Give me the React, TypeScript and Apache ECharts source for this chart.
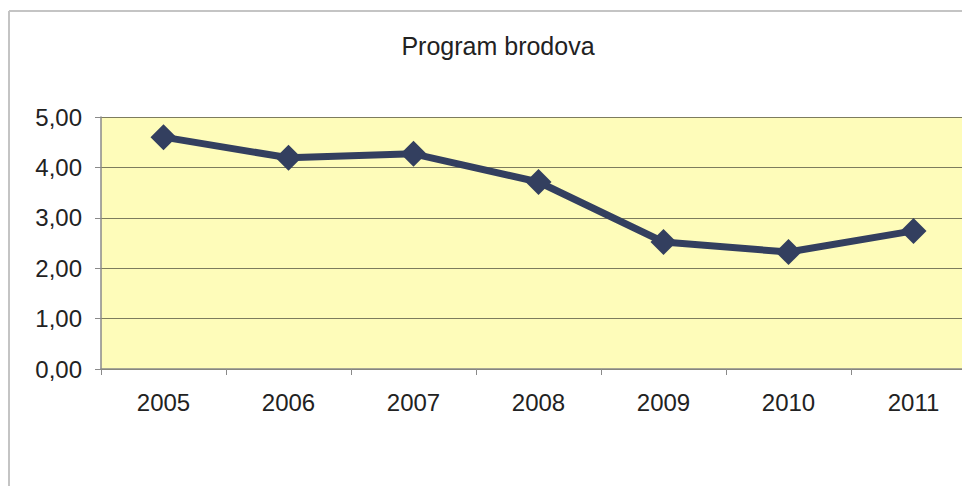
import React, { useEffect, useRef } from "react";
import * as echarts from "echarts";

const title = "Program brodova";
const years = ["2005", "2006", "2007", "2008", "2009", "2010", "2011"];
const values = [4.6, 4.19, 4.27, 3.71, 2.52, 2.32, 2.74];
const yMin = 0;
const yMax = 5;
const yStep = 1;

export default function App() {
  const ref = useRef<HTMLDivElement>(null);
  useEffect(() => {
    if (!ref.current) return;
    const chart = echarts.init(ref.current, null, { renderer: "svg" });
    const font = "'Liberation Sans', Arial, sans-serif";
    chart.setOption({
      animation: false,
      backgroundColor: "#ffffff",
      title: {
        text: title,
        left: 493,
        top: 28,
        textAlign: "center",
        textStyle: { fontFamily: font, fontSize: 25, fontWeight: "normal", color: "#222" },
      },
      graphic: [
        { type: "line", shape: { x1: 9, y1: 11, x2: 990, y2: 11 }, style: { stroke: "#c4c4c4", lineWidth: 2 } },
        { type: "line", shape: { x1: 9, y1: 11, x2: 9, y2: 486 }, style: { stroke: "#c4c4c4", lineWidth: 2 } },
      ],
      grid: {
        left: 101,
        top: 117,
        bottom: 117,
        right: 14,
        show: true,
        backgroundColor: "#FEFCBA",
        borderWidth: 0,
      },
      xAxis: {
        type: "category",
        data: years,
        boundaryGap: true,
        axisLine: { show: true, lineStyle: { color: "#8a8a8a", width: 1.5 } },
        axisTick: { show: true, length: 6, lineStyle: { color: "#8a8a8a" } },
        axisLabel: { margin: 21, fontFamily: font, fontSize: 24, color: "#222" },
        splitLine: { show: false },
      },
      yAxis: {
        type: "value",
        min: yMin,
        max: yMax,
        interval: yStep,
        axisLine: { show: true, lineStyle: { color: "#8a8a8a", width: 1.5 } },
        axisTick: { show: true, length: 6, lineStyle: { color: "#8a8a8a" } },
        axisLabel: {
          margin: 19,
          fontFamily: font,
          fontSize: 24,
          color: "#222",
          formatter: (v: number) => v.toFixed(2).replace(".", ","),
        },
        splitLine: { show: true, lineStyle: { color: "#7d7c5e", width: 1.2 } },
      },
      series: [
        {
          type: "line",
          data: values,
          symbol: "diamond",
          symbolSize: 26,
          lineStyle: { color: "#333F5F", width: 7 },
          itemStyle: { color: "#333F5F" },
        },
      ],
    });
    return () => chart.dispose();
  }, []);
  return (
    <div style={{ width: 962, height: 486, position: "absolute", left: 0, top: 0, overflow: "hidden" }}>
      <div ref={ref} style={{ width: 990, height: 486 }} />
    </div>
  );
}
